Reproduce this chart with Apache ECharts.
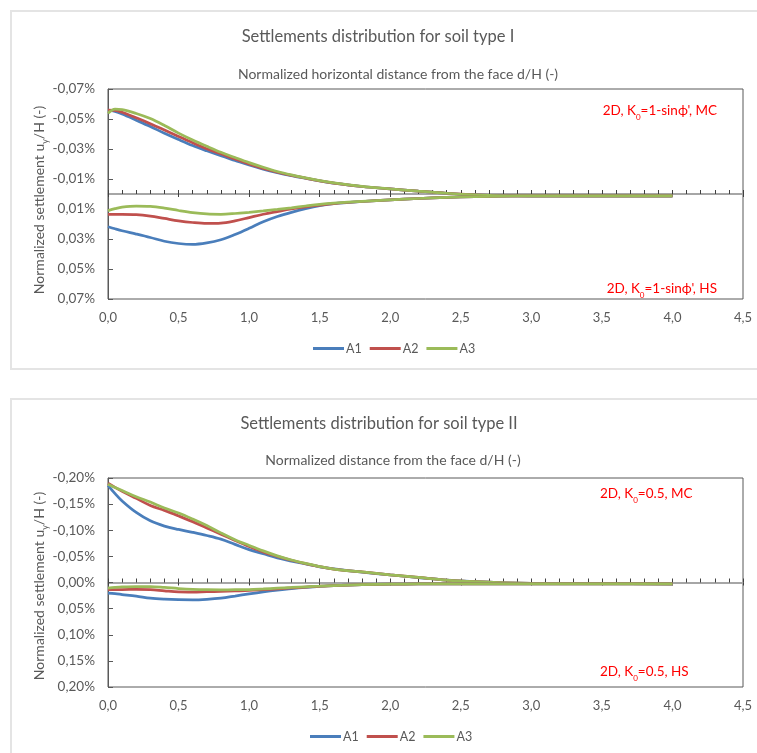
<!DOCTYPE html>
<html>
<head>
<meta charset="utf-8">
<script src="https://cdn.jsdelivr.net/npm/echarts@6/dist/echarts.min.js"></script>
<style>
  html, body { margin: 0; padding: 0; background: #ffffff; }
  #chart { width: 757px; height: 753px; }
</style>
</head>
<body>
<div id="chart"></div>
<script>
// Normalized distance from the face d/H (-)
const distance = [0, 0.05, 0.1, 0.2, 0.3, 0.4, 0.5, 0.6, 0.7, 0.8, 0.9, 1.0, 1.1, 1.2, 1.3, 1.4, 1.5, 1.6,
  1.8, 2.0, 2.2, 2.4, 2.6, 2.8, 3.0, 3.5, 4.0];

// Normalized settlement uy/H in percent — soil type I
const soilI_MC_A1 = [-0.056, -0.055, -0.0533, -0.0492, -0.045, -0.0405, -0.0363, -0.0323, -0.0288, -0.0255, -0.0224, -0.0193,
  -0.0166, -0.0143, -0.0123, -0.0105, -0.0088, -0.0073, -0.0050, -0.0034, -0.0019, -0.0005, 0.0005, 0.0010, 0.0012, 0.0012, 0.0012];
const soilI_MC_A2 = [-0.056, -0.0558, -0.0545, -0.0508, -0.0469, -0.0427, -0.0384, -0.0342, -0.0302, -0.0268, -0.0233, -0.0200,
  -0.0170, -0.0145, -0.0124, -0.0106, -0.0088, -0.0073, -0.0050, -0.0034, -0.0019, -0.0005, 0.0005, 0.0011, 0.0013, 0.0013, 0.0012];
const soilI_MC_A3 = [-0.0538, -0.0566, -0.0563, -0.0537, -0.0503, -0.0457, -0.0406, -0.0360, -0.0318, -0.0278, -0.0243, -0.0209,
  -0.0178, -0.0150, -0.0127, -0.0107, -0.0089, -0.0074, -0.0051, -0.0034, -0.0019, -0.0005, 0.0005, 0.0010, 0.0012, 0.0012, 0.0012];
const soilI_HS_A1 = [0.0218, 0.0232, 0.0245, 0.0267, 0.0290, 0.0315, 0.0330, 0.0336, 0.0326, 0.0305, 0.0270, 0.0229,
  0.0185, 0.0150, 0.0122, 0.0098, 0.0078, 0.0064, 0.0050, 0.0039, 0.0030, 0.0022, 0.0017, 0.0014, 0.0013, 0.0013, 0.0013];
const soilI_HS_A2 = [0.0136, 0.0135, 0.0135, 0.0137, 0.0147, 0.0163, 0.0179, 0.0190, 0.0196, 0.0194, 0.0179, 0.0157,
  0.0135, 0.0117, 0.0100, 0.0086, 0.0074, 0.0064, 0.0050, 0.0039, 0.0030, 0.0022, 0.0017, 0.0014, 0.0013, 0.0013, 0.0013];
const soilI_HS_A3 = [0.0111, 0.0098, 0.0088, 0.0081, 0.0083, 0.0094, 0.0110, 0.0124, 0.0133, 0.0135, 0.0130, 0.0122,
  0.0113, 0.0103, 0.0092, 0.0080, 0.0069, 0.0061, 0.0049, 0.0039, 0.0030, 0.0022, 0.0017, 0.0014, 0.0013, 0.0013, 0.0013];

// Normalized settlement uy/H in percent — soil type II
const soilII_MC_A1 = [-0.186, -0.170, -0.156, -0.134, -0.118, -0.108, -0.1015, -0.096, -0.090, -0.083, -0.073, -0.063,
  -0.055, -0.047, -0.041, -0.0355, -0.030, -0.026, -0.020, -0.0145, -0.0095, -0.0045, -0.0015, 0.0005, 0.0015, 0.0022, 0.0025];
const soilII_MC_A2 = [-0.190, -0.182, -0.1745, -0.161, -0.1475, -0.138, -0.1275, -0.1165, -0.1045, -0.0925, -0.0805, -0.069,
  -0.0585, -0.050, -0.0425, -0.036, -0.0305, -0.0258, -0.0202, -0.0147, -0.0096, -0.0046, -0.0015, 0.0005, 0.0015, 0.0022, 0.0025];
const soilII_MC_A3 = [-0.188, -0.182, -0.176, -0.164, -0.154, -0.1425, -0.133, -0.1215, -0.109, -0.095, -0.082, -0.071,
  -0.0605, -0.051, -0.043, -0.0365, -0.0305, -0.0258, -0.0202, -0.0147, -0.0096, -0.0046, -0.0015, 0.0005, 0.0015, 0.0022, 0.0025];
const soilII_HS_A1 = [0.0205, 0.0215, 0.0230, 0.0260, 0.0300, 0.0320, 0.0330, 0.0332, 0.0322, 0.0300, 0.0260, 0.0217,
  0.0178, 0.0145, 0.0118, 0.0093, 0.0072, 0.0058, 0.0042, 0.0032, 0.0027, 0.0025, 0.0025, 0.0025, 0.0025, 0.0025, 0.0025];
const soilII_HS_A2 = [0.0134, 0.0134, 0.0134, 0.0133, 0.0136, 0.0160, 0.0180, 0.0183, 0.0176, 0.0170, 0.0162, 0.0153,
  0.0138, 0.0122, 0.0105, 0.0088, 0.0072, 0.0059, 0.0042, 0.0032, 0.0027, 0.0025, 0.0025, 0.0025, 0.0025, 0.0025, 0.0025];
const soilII_HS_A3 = [0.0109, 0.0095, 0.0085, 0.0077, 0.0079, 0.0095, 0.0115, 0.0130, 0.0138, 0.0140, 0.0138, 0.0134,
  0.0122, 0.0108, 0.0095, 0.0082, 0.0071, 0.0060, 0.0043, 0.0032, 0.0027, 0.0025, 0.0025, 0.0025, 0.0025, 0.0025, 0.0025];

const seriesNames = ['A1', 'A2', 'A3'];
const seriesColors = ['#4a7ebb', '#c0504d', '#9bbb59'];

const chartTitles = ['Settlements distribution for soil type I', 'Settlements distribution for soil type II'];
const xAxisTitles = ['Normalized horizontal distance from the face d/H (-)', 'Normalized distance from the face d/H (-)'];
const yAxisTitle = 'Normalized settlement u{sub|y}/H (-)';
const caseLabelsI = ["2D, K{sub|0}=1-sinϕ', MC", "2D, K{sub|0}=1-sinϕ', HS"];
const caseLabelsII = ["2D, K{sub|0}=0.5, MC", "2D, K{sub|0}=0.5, HS"];

// y-axis ranges (percent)
const yRangeI = { min: -0.07, max: 0.07, interval: 0.02 };
const yRangeII = { min: -0.20, max: 0.20, interval: 0.05 };
const xRange = { min: 0, max: 4.5, interval: 0.5 };

const FONT = 'Lato, "Open Sans", sans-serif';
const TEXT_GREY = '#595959';
const RED = '#ff0000';

const pair = (ys) => distance.map((d, i) => [d, ys[i]]);
const comma = (v, digits) => v.toFixed(digits).replace('.', ',');

function makeGrid(top, height) {
  return {
    left: 108, top: top, width: 635, height: height,
    show: true, borderColor: '#595959', borderWidth: 1,
    backgroundColor: 'transparent', containLabel: false
  };
}

function makeXAxes(gridIndex, yIndex) {
  const base = { type: 'value', gridIndex: gridIndex, min: xRange.min, max: xRange.max, interval: xRange.interval,
    splitLine: { show: false }, position: 'bottom' };
  return [
    // tick labels along the bottom edge of the plot
    Object.assign({}, base, {
      axisLine: { show: false, onZero: false },
      axisTick: { show: false },
      axisLabel: { show: true, margin: 12, color: TEXT_GREY, fontSize: 13, fontFamily: FONT,
        formatter: (v) => comma(v, 1) }
    }),
    // zero line with major/minor ticks on the upper side
    Object.assign({}, base, {
      axisLine: { show: true, onZero: true, onZeroAxisIndex: yIndex, lineStyle: { color: '#a6a6a6', width: 2 } },
      axisTick: { show: true, inside: true, length: 4, lineStyle: { color: '#404040', width: 1 } },
      minorTick: { show: true, splitNumber: 5, length: 4, lineStyle: { color: '#404040', width: 1 } },
      axisLabel: { show: false }
    }),
    // lower half of the major ticks crossing the zero line
    Object.assign({}, base, {
      axisLine: { show: true, onZero: true, onZeroAxisIndex: yIndex, lineStyle: { color: '#a6a6a6', width: 2 } },
      axisTick: { show: true, inside: false, length: 3, lineStyle: { color: '#404040', width: 1 } },
      axisLabel: { show: false }
    })
  ];
}

function makeYAxis(gridIndex, range) {
  return {
    type: 'value', gridIndex: gridIndex, inverse: true,
    min: range.min, max: range.max, interval: range.interval,
    splitLine: { show: false },
    axisLine: { show: true, onZero: false, lineStyle: { color: '#595959', width: 1 } },
    axisTick: { show: true, inside: true, length: 5, lineStyle: { color: '#595959' } },
    axisLabel: { margin: 13, color: TEXT_GREY, fontSize: 13.5, fontFamily: FONT,
      formatter: (v) => comma(v, 2) + '%' }
  };
}

function makeSeries(xBase, yIndex, mc, hs) {
  const out = [];
  [mc, hs].forEach((group) => {
    group.forEach((ys, k) => {
      out.push({
        type: 'line', name: seriesNames[k], xAxisIndex: xBase, yAxisIndex: yIndex,
        data: pair(ys), smooth: 0.35, showSymbol: false, symbol: 'none',
        lineStyle: { color: seriesColors[k], width: 2.75 },
        itemStyle: { color: seriesColors[k] },
        emphasis: { disabled: true }, animation: false
      });
    });
  });
  return out;
}

function textEl(text, x, y, size, align, color, extra) {
  const fill = color || TEXT_GREY;
  return Object.assign({
    type: 'text', x: x, y: y, silent: true,
    style: {
      text: text, fill: fill, fontSize: size, fontFamily: FONT,
      align: align || 'center', verticalAlign: 'middle', lineHeight: Math.round(size * 1.5),
      rich: { sub: { fontSize: Math.round(size * 0.62), fill: fill, fontFamily: FONT,
        verticalAlign: 'bottom', lineHeight: Math.round(size * 0.62) + 2 } }
    }
  }, extra || {});
}

function makeLegend(left, top) {
  return {
    data: seriesNames, left: left, top: top, padding: 0, icon: 'rect', itemWidth: 31, itemHeight: 3, itemGap: 8,
    textStyle: { color: TEXT_GREY, fontSize: 12.5, fontFamily: FONT, padding: [0, 0, 0, -3] }, selectedMode: false
  };
}

const option = {
  backgroundColor: '#ffffff',
  animation: false,
  grid: [makeGrid(89, 210), makeGrid(478, 209)],
  xAxis: makeXAxes(0, 0).concat(makeXAxes(1, 1)),
  yAxis: [makeYAxis(0, yRangeI), makeYAxis(1, yRangeII)],
  legend: [makeLegend(313, 342), makeLegend(310, 730)],
  series: makeSeries(0, 0, [soilI_MC_A1, soilI_MC_A2, soilI_MC_A3], [soilI_HS_A1, soilI_HS_A2, soilI_HS_A3])
    .concat(makeSeries(3, 1, [soilII_MC_A1, soilII_MC_A2, soilII_MC_A3], [soilII_HS_A1, soilII_HS_A2, soilII_HS_A3])),
  graphic: [
    { type: 'rect', z: -10, silent: true, shape: { x: 11, y: 11, width: 770, height: 358 },
      style: { fill: '#ffffff', stroke: '#e4e4e4', lineWidth: 2 } },
    { type: 'rect', z: -10, silent: true, shape: { x: 11, y: 399, width: 770, height: 400 },
      style: { fill: '#ffffff', stroke: '#e4e4e4', lineWidth: 2 } },
    textEl(chartTitles[0], 378, 37, 16.5),
    textEl(xAxisTitles[0], 398, 74, 14),
    textEl(chartTitles[1], 379, 424, 16.5),
    textEl(xAxisTitles[1], 393, 460, 14),
    textEl(yAxisTitle, 39, 200, 14, 'center', TEXT_GREY, { rotation: Math.PI / 2 }),
    textEl(yAxisTitle, 39, 586, 14, 'center', TEXT_GREY, { rotation: Math.PI / 2 }),
    textEl(caseLabelsI[0], 717, 111, 13.5, 'right', RED),
    textEl(caseLabelsI[1], 717, 289, 13.5, 'right', RED),
    textEl(caseLabelsII[0], 600, 494, 13.5, 'left', RED),
    textEl(caseLabelsII[1], 600, 672, 13.5, 'left', RED)
  ]
};

const chart = echarts.init(document.getElementById('chart'), null, { renderer: 'canvas' });
chart.setOption(option);
</script>
</body>
</html>
